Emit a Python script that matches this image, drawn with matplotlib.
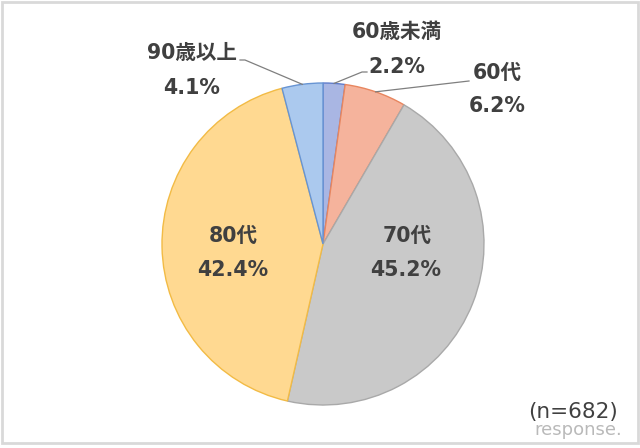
import numpy as np
import matplotlib
matplotlib.use("Agg")
import matplotlib.pyplot as plt
from matplotlib.patches import Rectangle

plt.rcParams['font.family'] = ['DejaVu Sans', 'Noto Sans CJK JP']

# ── データ ─────────────────────────────────────────────
labels = ["60歳未満", "60代", "70代", "80代", "90歳以上"]
shares = [2.2, 6.2, 45.2, 42.4, 4.1]
n_total = 682

face_colors = ["#a9b6e3", "#f5b39c", "#c9c9c9", "#ffd991", "#abc9ee"]
edge_colors = ["#5f7ccb", "#e8865f", "#a9a9a9", "#f2bb45", "#6794d3"]

W, H = 640, 448
CX, CY, R = 323, H - 244, 161
TXT = "#404040"

fig = plt.figure(figsize=(W / 100, H / 100), dpi=100)
ax = fig.add_axes([0, 0, 1, 1])

wedges, _ = ax.pie(shares, startangle=90, counterclock=False,
                   colors=face_colors, center=(CX, CY), radius=R,
                   wedgeprops=dict(linewidth=1.0))
for w, ec in zip(wedges, edge_colors):
    w.set_edgecolor(ec)

# pie() がリミットを上書きするので後で設定
ax.set_xlim(0, W)
ax.set_ylim(0, H)
ax.set_aspect("equal")
ax.axis("off")

# ラベル位置（画像座標 y は上から）
label_pos = {
    "60歳未満": ((397, 32), (397, 67)),
    "60代":     ((497, 73), (497, 106)),
    "70代":     ((407, 236), (406, 270)),
    "80代":     ((233, 236), (233, 270)),
    "90歳以上": ((192, 53), (192, 88)),
}
leader_end = {
    "60歳未満": [(362, 72), (367, 72)],
    "60代":     [(469, 81)],
    "90歳以上": [(245, 60), (240, 60)],
}

for w, lab, val in zip(wedges, labels, shares):
    (x1, y1), (x2, y2) = label_pos[lab]
    ax.text(x1, H - y1, lab, ha="center", va="center", fontsize=14.8,
            fontweight="bold", color=TXT)
    ax.text(x2, H - y2, f"{val:.1f}%", ha="center", va="center", fontsize=14.8,
            fontweight="bold", color=TXT)
    if lab in leader_end:
        ang = np.deg2rad((w.theta1 + w.theta2) / 2)
        xs = [CX + R * np.cos(ang)] + [p[0] for p in leader_end[lab]]
        ys = [CY + R * np.sin(ang)] + [H - p[1] for p in leader_end[lab]]
        ax.plot(xs, ys, color="#7f7f7f", lw=0.9)

ax.text(573, H - 412, f"(n={n_total})", ha="center", va="center",
        fontsize=15.5, color=TXT)
ax.text(578, H - 430, "response.", ha="center", va="center",
        fontsize=13, color="#a8a8a8", alpha=0.8)

# 外枠
ax.add_patch(Rectangle((1.5, 5), W - 4, H - 6.5, fill=False,
                       edgecolor="#d9d9d9", lw=2))

fig.savefig("out.png", dpi=100)
